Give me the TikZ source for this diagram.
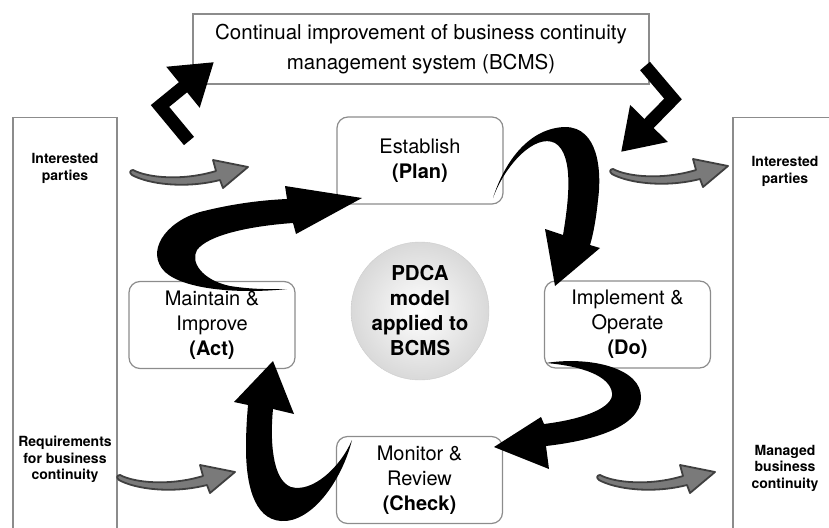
\documentclass[tikz,border=0pt]{standalone}
\usepackage{fontspec}
\setmainfont{TeX Gyre Heros}
\usepackage{tikz}
\usetikzlibrary{arrows.meta}
\definecolor{edge}{HTML}{8C8C8C}
\definecolor{flow}{HTML}{7A7A7A}

\begin{document}
\begin{tikzpicture}[x=1pt,y=-1pt,
  stage/.style={rectangle,draw=edge,line width=1.2pt,rounded corners=11pt,align=center,
                minimum width=166pt,minimum height=87pt,inner sep=0pt,
                font=\fontsize{20}{25}\selectfont},
  column/.style={rectangle,draw=edge,line width=1.2pt,anchor=north,
                 minimum width=104pt,minimum height=440pt},
  side/.style={align=center,font=\bfseries\fontsize{14}{16.5}\selectfont},
  bent/.style={line width=13pt,line join=miter,-{Triangle[length=40pt,width=50pt]}},
  flowarrow/.pic={
    \filldraw[fill=flow,draw=black!75,line width=1.8pt,line join=round]
      (0,0) .. controls (15,8) and (50,11) .. (83,1) -- (80,-10) -- (115,-3)
      -- (90,18) -- (87,10) .. controls (52,19) and (15,14) .. (-1,5)
      .. controls (-4,3) and (-3,0) .. cycle;}]

\useasboundingbox (0,0) rectangle (829,527);
\clip (0,0) rectangle (829,527);

% inputs and outputs
\node[column] (leftcol) at (65,117) {};
\node[column] (rightcol) at (785,117) {};
\node[side] (inparties) at (65,168.5) {Interested\\parties};
\node[side] (inreq) at (65,459.5) {Requirements\\for business\\continuity};
\node[side] (outparties) at (785,171.5) {Interested\\parties};
\node[side] (outmanaged) at (785,468) {Managed\\business\\continuity};

% continual improvement
\node[rectangle,draw=edge,line width=1.2pt,minimum width=456pt,minimum height=70pt,
      align=center,font=\fontsize{20.5}{30}\selectfont] (improve) at (421,49)
  {Continual improvement of business continuity\\management system (BCMS)};

% the four stages
\node[stage] (plan) at (420,160.5) {Establish\\\textbf{(Plan)}};
\node[stage] (do) at (627.5,324.5) {Implement \&\\Operate\\\textbf{(Do)}};
\node[stage] (check) at (419.5,480) {Monitor \&\\Review\\\textbf{(Check)}};
\node[stage] (act) at (212,325) {Maintain \&\\Improve\\\textbf{(Act)}};

\node[circle,minimum size=138pt,inner sep=0pt,draw=gray!40,inner color=white,
      outer color=gray!30,align=center,font=\bfseries\fontsize{20.5}{25}\selectfont]
  (pdca) at (420,311) {PDCA\\model\\applied to\\BCMS};

% grey flow arrows
\pic at (133,170) {flowarrow};
\pic at (613,169) {flowarrow};
\pic at (120,475) {flowarrow};
\pic at (600,475) {flowarrow};

% cycle: act -> plan
\fill (287,289) .. controls (240,294) and (185,290) .. (165,272)
  .. controls (145,252) and (165,222) .. (200,212)
  .. controls (235,203) and (265,200) .. (287,199)
  -- (285,186) -- (362,198) -- (296,234) -- (293,223)
  .. controls (250,226) and (208,235) .. (197,250)
  .. controls (190,262) and (202,280) .. (230,286)
  .. controls (255,290) and (275,289) .. cycle;
% plan -> do
\fill (493,198) .. controls (505,160) and (530,128) .. (565,127)
  .. controls (598,127) and (602,170) .. (598,200)
  .. controls (596,220) and (593,235) .. (590,245)
  -- (600,248) -- (555,286) -- (545,229) -- (563,235)
  .. controls (568,205) and (575,155) .. (555,143)
  .. controls (535,133) and (505,165) .. cycle;
% do -> check
\fill (546,363) .. controls (590,356) and (642,368) .. (641,398)
  .. controls (640,428) and (590,441) .. (546,446)
  -- (549,469) -- (494,447) -- (541,417) -- (544,424)
  .. controls (585,419) and (614,407) .. (612,393)
  .. controls (610,376) and (582,366) .. cycle;
% check -> act
\fill (352,440) .. controls (342,480) and (312,523) .. (281,521)
  .. controls (253,519) and (246,482) .. (246,448)
  .. controls (246,430) and (247,417) .. (248,405)
  -- (234,402) -- (273,361) -- (294,414) -- (273,409)
  .. controls (270,440) and (272,480) .. (291,487)
  .. controls (312,493) and (340,468) .. cycle;

% feedback into / out of the improvement box
\coordinate (liftS) at (189,141);
\coordinate (liftB) at (160,106);
\coordinate (liftT) at (214,62);
\coordinate (dropS) at (645,66);
\coordinate (dropB) at (673,99);
\coordinate (dropT) at (621,152);
\draw[bent] (liftS) -- (liftB) -- (liftT);
\draw[bent] (dropS) -- (dropB) -- (dropT);
\end{tikzpicture}
\end{document}
